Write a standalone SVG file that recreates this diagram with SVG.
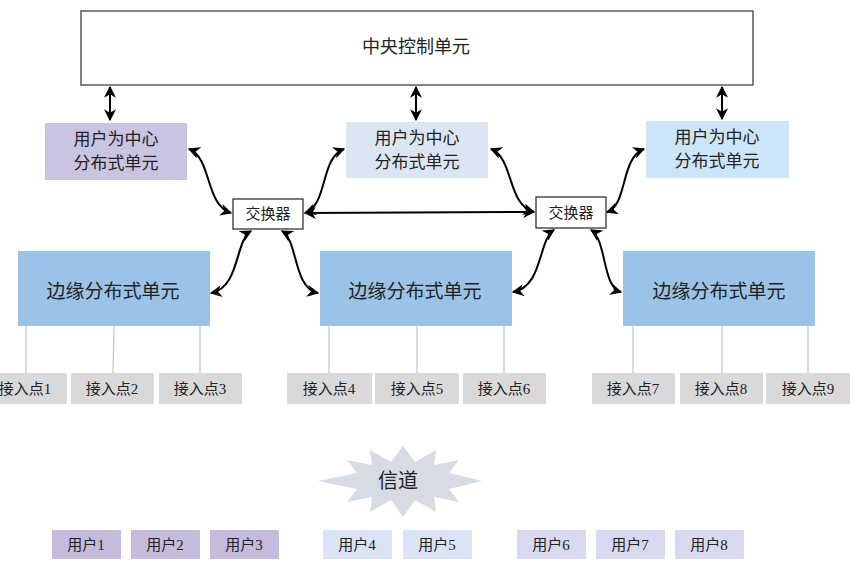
<svg xmlns="http://www.w3.org/2000/svg" width="856" height="569" viewBox="0 0 856 569">
<defs>
<marker id="ah" viewBox="0 0 10 10" refX="9" refY="5" markerWidth="6" markerHeight="6" orient="auto-start-reverse" markerUnits="strokeWidth">
<path d="M0,0 L10,5 L0,10 L3,5 z" fill="#000"/>
</marker>
<style>
text{font-family:"Liberation Serif","Noto Sans CJK SC",serif;fill:#222;text-anchor:middle;dominant-baseline:central}
.con{fill:none;stroke:#000;stroke-width:2;marker-start:url(#ah);marker-end:url(#ah)}
.ln{stroke:#c8c8c8;stroke-width:1.3}
.ap{fill:#d9d9d9}
.apt{font-size:15px}
.ut{font-size:15px}
.edu{fill:#9bc3e8}
</style>
</defs>
<g id="central"><rect x="81" y="11" width="672" height="74" fill="#fff" stroke="#333" stroke-width="1.2"/><text x="416" y="47" font-size="18">中央控制单元</text></g>
<g id="udu1"><rect x="45" y="123" width="142" height="57" fill="#c8c4e2"/><text x="116" y="139" font-size="17">用户为中心</text><text x="116" y="163" font-size="17">分布式单元</text></g>
<g id="udu2"><rect x="346" y="122" width="142" height="56" fill="#dce6f3"/><text x="417" y="138" font-size="17">用户为中心</text><text x="417" y="162" font-size="17">分布式单元</text></g>
<g id="udu3"><rect x="646" y="121" width="143" height="57" fill="#cce5f8"/><text x="717" y="137" font-size="17">用户为中心</text><text x="717" y="161" font-size="17">分布式单元</text></g>
<g id="sw1"><rect x="233" y="199" width="70" height="30" fill="#fff" stroke="#222" stroke-width="1.2"/><text x="268" y="214" font-size="15">交换器</text></g>
<g id="sw2"><rect x="536" y="197" width="70" height="31" fill="#fff" stroke="#222" stroke-width="1.2"/><text x="571" y="213" font-size="15">交换器</text></g>
<g id="edu1"><rect class="edu" x="18" y="251" width="192" height="75"/><text x="113" y="291" font-size="19">边缘分布式单元</text></g>
<g id="edu2"><rect class="edu" x="320" y="251" width="192" height="75"/><text x="415" y="291" font-size="19">边缘分布式单元</text></g>
<g id="edu3"><rect class="edu" x="623" y="251" width="192" height="75"/><text x="719" y="291" font-size="19">边缘分布式单元</text></g>
<g id="connectors">
<line class="ln" x1="26" y1="326" x2="26" y2="373"/>
<line class="ln" x1="114" y1="326" x2="113" y2="373"/>
<line class="ln" x1="200" y1="326" x2="200" y2="373"/>
<line class="ln" x1="329" y1="326" x2="329" y2="373"/>
<line class="ln" x1="417" y1="326" x2="417" y2="373"/>
<line class="ln" x1="504" y1="326" x2="504" y2="373"/>
<line class="ln" x1="633" y1="326" x2="633" y2="373"/>
<line class="ln" x1="722" y1="326" x2="722" y2="373"/>
<line class="ln" x1="808" y1="326" x2="808" y2="373"/>
<path class="con" d="M110,87 L110,120"/>
<path class="con" d="M416,87 L416,120"/>
<path class="con" d="M722,87 L722,119"/>
<path class="con" d="M305,213 L534,212"/>
<path class="con" d="M189,149 C212,158 205,205 231,213"/>
<path class="con" d="M344,149 C320,158 328,205 305,213"/>
<path class="con" d="M491,149 C514,158 507,205 534,212"/>
<path class="con" d="M644,149 C620,158 628,205 607,212"/>
<path class="con" d="M251,231 C235,240 240,288 211,293"/>
<path class="con" d="M282,231 C298,240 293,288 318,293"/>
<path class="con" d="M554,230 C538,240 543,287 513,292"/>
<path class="con" d="M591,230 C607,240 602,287 621,292"/>
</g>
<g id="ap1"><rect class="ap" x="-16" y="373" width="83" height="31"/><text class="apt" x="25" y="389">接入点1</text></g>
<g id="ap2"><rect class="ap" x="71" y="373" width="83" height="31"/><text class="apt" x="112" y="389">接入点2</text></g>
<g id="ap3"><rect class="ap" x="159" y="373" width="83" height="31"/><text class="apt" x="200" y="389">接入点3</text></g>
<g id="ap4"><rect class="ap" x="287" y="373" width="85" height="31"/><text class="apt" x="329" y="389">接入点4</text></g>
<g id="ap5"><rect class="ap" x="375" y="373" width="84" height="31"/><text class="apt" x="417" y="389">接入点5</text></g>
<g id="ap6"><rect class="ap" x="463" y="373" width="83" height="31"/><text class="apt" x="504" y="389">接入点6</text></g>
<g id="ap7"><rect class="ap" x="592" y="373" width="83" height="31"/><text class="apt" x="633" y="389">接入点7</text></g>
<g id="ap8"><rect class="ap" x="680" y="373" width="83" height="31"/><text class="apt" x="721" y="389">接入点8</text></g>
<g id="ap9"><rect class="ap" x="766" y="373" width="84" height="31"/><text class="apt" x="808" y="389">接入点9</text></g>
<g id="channel"><polygon fill="#d6dbe4" points="403,446 415,462 436,450 434,465 459,460 449,473 482,481 449,489 459,502 434,497 436,512 415,500 403,517 391,500 370,512 372,497 347,502 357,489 318,481 357,473 347,460 372,465 370,450 391,462"/><text x="398" y="481" font-size="20">信道</text></g>
<g id="u1"><rect x="52" y="530" width="69" height="29" fill="#c5bbdc"/><text class="ut" x="86" y="545">用户1</text></g>
<g id="u2"><rect x="131" y="530" width="69" height="29" fill="#c5bbdc"/><text class="ut" x="165" y="545">用户2</text></g>
<g id="u3"><rect x="210" y="530" width="69" height="29" fill="#c5bbdc"/><text class="ut" x="244" y="545">用户3</text></g>
<g id="u4"><rect x="323" y="530" width="69" height="29" fill="#dae4f4"/><text class="ut" x="357" y="545">用户4</text></g>
<g id="u5"><rect x="403" y="530" width="69" height="29" fill="#dae4f4"/><text class="ut" x="437" y="545">用户5</text></g>
<g id="u6"><rect x="517" y="530" width="69" height="29" fill="#d8d8ee"/><text class="ut" x="551" y="545">用户6</text></g>
<g id="u7"><rect x="596" y="530" width="69" height="29" fill="#d8d8ee"/><text class="ut" x="630" y="545">用户7</text></g>
<g id="u8"><rect x="675" y="530" width="69" height="29" fill="#d8d8ee"/><text class="ut" x="709" y="545">用户8</text></g>
</svg>
